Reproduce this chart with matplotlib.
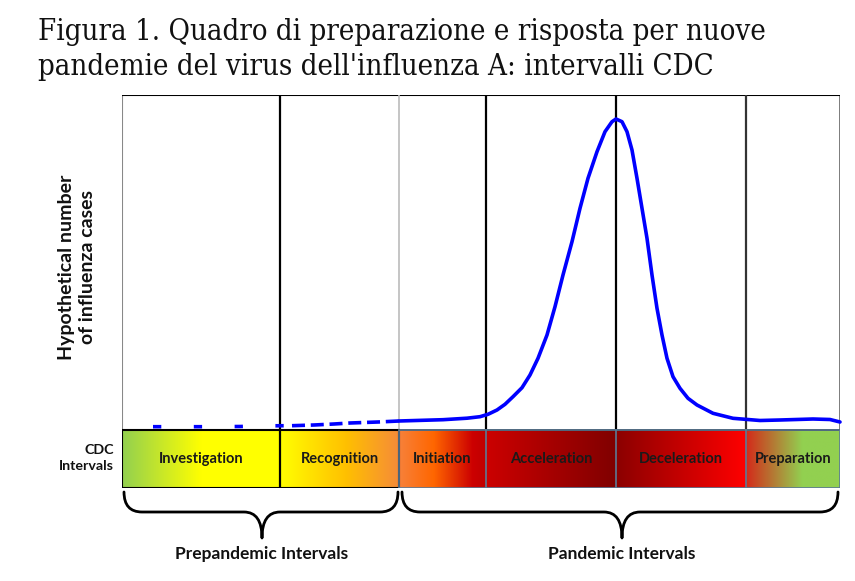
import matplotlib.pyplot as plt
import numpy as np
from matplotlib.colors import LinearSegmentedColormap
from matplotlib.path import Path
from matplotlib.patches import PathPatch, Rectangle

# CDC intervals (time axis in arbitrary units)
interval_names = ['Investigation', 'Recognition', 'Initiation',
                  'Acceleration', 'Deceleration', 'Preparation']
interval_edges = [0, 158, 277, 364, 494, 624, 718]
interval_colors = [
    [(0, '#92D050'), (0.5, '#FFFF00'), (1, '#FFFF00')],
    [(0, '#FFFF00'), (0.55, '#FFC000'), (1, '#F58A3A')],
    [(0, '#F7813A'), (0.4, '#FF6600'), (0.85, '#CC0000'), (1, '#C00000')],
    [(0, '#CC0000'), (1, '#800000')],
    [(0, '#8B0000'), (1, '#FF0000')],
    [(0, '#D42A1A'), (0.6, '#92D050'), (1, '#92D050')],
]

# hypothetical number of cases, prepandemic (dashed)
prepandemic_t = [31, 80, 118, 146, 170, 192, 212, 228, 256, 277]
prepandemic_cases = [3.3, 3.3, 3.5, 4.2, 4.3, 5, 6, 7, 8, 9]
# pandemic (solid)
pandemic_t = [277, 321, 345, 358, 366, 375, 383, 391, 400, 408, 416, 425, 433,
              441, 450, 458, 466, 475, 483, 490, 494, 500, 505, 510, 515, 520,
              525, 530, 535, 540, 545, 551, 558, 566, 575, 591, 611, 638, 658,
              691, 708, 718]
pandemic_cases = [9, 10.3, 11.8, 13.3, 15.7, 20, 25.7, 33.3, 42.3, 55, 71.7, 95,
                  123.3, 155, 188.3, 221.7, 251.7, 278.3, 298.3, 308.3, 311,
                  308.3, 298.3, 280, 251.7, 221.7, 191.7, 155, 121.7, 95, 71.7,
                  53.3, 41.7, 31.7, 25, 16.7, 11.7, 9.5, 10, 11, 10.5, 8]

groups = ['Prepandemic Intervals', 'Pandemic Intervals']
group_spans = [(2, 276, 140), (280, 716, 500)]

title1 = 'Figura 1. Quadro di preparazione e risposta per nuove'
title2 = "pandemie del virus dell'influenza A: intervalli CDC"

W, H = 855, 581
fig = plt.figure(figsize=(W / 100, H / 100), dpi=100)
fig.patch.set_facecolor('white')

band_h = 58
ymax = 335
ax = fig.add_axes([122 / W, (H - 488) / H, (840 - 122) / W, (488 - 95) / H])
ax.set_xlim(interval_edges[0], interval_edges[-1])
ax.set_ylim(-band_h, ymax)
ax.axis('off')

sans = 'Lato'

# colour band
for i, name in enumerate(interval_names):
    x0, x1 = interval_edges[i], interval_edges[i + 1]
    cmap = LinearSegmentedColormap.from_list('c%d' % i, interval_colors[i])
    grad = np.linspace(0, 1, 256).reshape(1, -1)
    ax.imshow(grad, cmap=cmap, extent=[x0, x1, -band_h, 0], aspect='auto',
              interpolation='bilinear', zorder=1)
    ax.text((x0 + x1) / 2, -band_h / 2, name, ha='center', va='center',
            fontsize=10.5, fontweight='bold', family=sans, color='#1a1a1a', zorder=5)

# band outlines
ax.add_patch(Rectangle((interval_edges[0], -band_h), interval_edges[2] - interval_edges[0],
                       band_h, fill=False, ec='black', lw=1.5, zorder=4))
ax.add_patch(Rectangle((interval_edges[2], -band_h), interval_edges[-1] - interval_edges[2],
                       band_h, fill=False, ec='#5B7A96', lw=1.2, zorder=4))
for x in interval_edges[3:-1]:
    ax.plot([x, x], [-band_h, 0], color='#5B7A96', lw=1.2, zorder=4)

# plot frame and interval dividers
ax.plot([0, 0], [0, ymax], color='#888888', lw=1.5, zorder=3)
ax.plot([718, 718], [0, ymax], color='#666666', lw=1.2, zorder=3)
ax.plot([0, 718], [ymax, ymax], color='black', lw=1.5, zorder=3)
ax.plot([0, 718], [0, 0], color='black', lw=1.2, zorder=3)
ax.plot([interval_edges[1]] * 2, [-band_h, ymax], color='black', lw=1.6, zorder=4)
ax.plot([interval_edges[2]] * 2, [0, ymax], color='#BBBBBB', lw=1.2, zorder=3)
ax.plot([interval_edges[3]] * 2, [0, ymax], color='black', lw=1.6, zorder=3)
ax.plot([interval_edges[4]] * 2, [0, ymax], color='black', lw=1.6, zorder=3)
ax.plot([interval_edges[5]] * 2, [0, ymax], color='#333333', lw=1.6, zorder=3)

# curve: sparse dashes early, denser dashes later, then solid
ax.plot(prepandemic_t[:5], prepandemic_cases[:5], color='#0000FF', lw=2.6,
        dashes=(2.3, 9), solid_capstyle='butt', zorder=6)
ax.plot(prepandemic_t[4:], prepandemic_cases[4:], color='#0000FF', lw=2.6,
        dashes=(3.6, 1.6), solid_capstyle='butt', zorder=6)
ax.plot(pandemic_t, pandemic_cases, color='#0000FF', lw=2.6, zorder=6,
        solid_capstyle='round', solid_joinstyle='round', clip_on=False)


def brace(ax, x0, x1, xm, ya, yb, yc, r=18):
    verts = [(x0, ya), (x0, yb), (x0 + r, yb),
             (xm - r, yb), (xm, yb), (xm, yc),
             (xm, yb), (xm + r, yb),
             (x1 - r, yb), (x1, yb), (x1, ya)]
    codes = [Path.MOVETO, Path.CURVE3, Path.CURVE3,
             Path.LINETO, Path.CURVE3, Path.CURVE3,
             Path.CURVE3, Path.CURVE3,
             Path.LINETO, Path.CURVE3, Path.CURVE3]
    ax.add_patch(PathPatch(Path(verts, codes), fill=False, lw=2, ec='black',
                           clip_on=False, capstyle='round', joinstyle='round'))


for name, (x0, x1, xm) in zip(groups, group_spans):
    brace(ax, x0, x1, xm, -band_h - 4, -band_h - 24, -band_h - 50)
    ax.text(xm, -band_h - 66, name, ha='center', va='center', fontsize=12.5,
            fontweight='bold', family=sans, color='#111111', clip_on=False)

# axis labels
ax.text(-45, ymax / 2 - 5, 'Hypothetical number\nof influenza cases', rotation=90,
        ha='center', va='center', fontsize=14, fontweight='bold', family=sans,
        linespacing=1.25, color='#111111')
ax.text(-8, -band_h / 2 + 1, 'CDC\nIntervals', ha='right', va='center',
        fontsize=10.3, fontweight='bold', family=sans, linespacing=1.4, color='#111111')

# title
fig.text(38 / W, 1 - 40 / H, title1, fontsize=21, family='DejaVu Serif',
         fontstretch='condensed', color='#111111', va='baseline')
fig.text(38 / W, 1 - 75 / H, title2, fontsize=21, family='DejaVu Serif',
         fontstretch='condensed', color='#111111', va='baseline')

fig.savefig('out.png', dpi=100, facecolor='white')
